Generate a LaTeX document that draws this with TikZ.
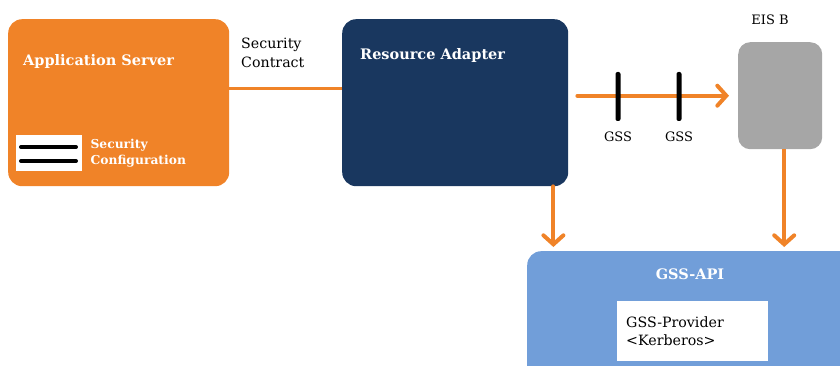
\documentclass[tikz,border=0pt]{standalone}
\usepackage{fontspec}
\setmainfont{DejaVu Serif}
\usepackage{xcolor}
\usepackage{tikz}
\usetikzlibrary{arrows.meta, positioning}

\definecolor{secorange}{RGB}{240,131,40}
\definecolor{adaptnavy}{RGB}{25,55,95}
\definecolor{eisgray}{RGB}{166,166,166}
\definecolor{apiblue}{RGB}{113,158,217}

\begin{document}
\begin{tikzpicture}[x=1pt, y=-1pt,
    panel/.style={rectangle, rounded corners=14pt, inner sep=0pt, anchor=north west},
    title/.style={inner sep=0pt, text=white, font=\fontsize{14.5}{17}\selectfont\bfseries},
    smalltitle/.style={inner sep=0pt, text=white, align=left,
                       font=\fontsize{12.3}{16}\selectfont\bfseries},
    plain/.style={inner sep=0pt, text=black, align=left,
                  font=\fontsize{14.2}{19}\selectfont},
    tag/.style={inner sep=0pt, text=black, font=\fontsize{13}{15}\selectfont},
    bar/.style={rectangle, fill=black, rounded corners=2pt, inner sep=0pt,
                minimum width=5pt, minimum height=49pt},
    link/.style={draw=secorange, line width=3pt},
    arrow/.style={draw=secorange, line width=4pt, line cap=round,
                  -{Straight Barb[length=9pt, width=20pt, line cap=round]}}
]
\clip (0,0) rectangle (840,366);

% boxes
\node[panel, fill=secorange, minimum width=221pt, minimum height=167pt] (appserver) at (8,19) {};
\node[panel, fill=adaptnavy, minimum width=226pt, minimum height=167pt] (resadapter) at (342,19) {};
\node[panel, fill=eisgray, rounded corners=12pt, minimum width=84pt, minimum height=107pt] (eisb) at (738,42) {};
\node[panel, fill=apiblue, minimum width=340pt, minimum height=140pt] (gssapi) at (527,251) {};

% texts
\node[title, anchor=west] (apptitle) at (23,62) {Application Server};
\node[title, anchor=west] (ratitle) at (360,56) {Resource Adapter};
\node[title] (apititle) at (690,274) {GSS-API};
\node[tag] (eislabel) at (770,20) {EIS B};
\node[plain, anchor=west] (contract) at (241,52.5) {Security\\Contract};

% security configuration
\node[rectangle, fill=white, inner sep=0pt, minimum width=66pt, minimum height=36pt,
      anchor=north west] (cfgicon) at (16,135) {};
\draw[line width=4pt, line cap=round] ([xshift=5,yshift=-12]cfgicon.north west) -- ++(55,0);
\draw[line width=4pt, line cap=round] ([xshift=5,yshift=-26]cfgicon.north west) -- ++(55,0);
\node[smalltitle, right=8pt of cfgicon] (cfgtext) {Security\\Configuration};

% provider
\node[rectangle, fill=white, inner ysep=0pt, inner xsep=9pt, text width=133pt,
      minimum height=60pt, align=left, anchor=north west,
      font=\fontsize{14.2}{18}\selectfont] (provider) at (617,301) {GSS-Provider\\<Kerberos>};

% connectors
\draw[link] ([yshift=14.5]appserver.east) -- ([yshift=14.5]resadapter.west);
\draw[arrow, shorten <=9pt, shorten >=9pt] (resadapter.east |- eisb.west) -- (eisb.west);
\coordinate (radown) at ([xshift=-15]resadapter.south east);
\coordinate (eisdown) at ([xshift=4]eisb.south);
\draw[arrow, shorten >=4pt] (radown) -- (radown |- gssapi.north);
\draw[arrow, line cap=butt, shorten >=4pt] (eisdown) -- (eisdown |- gssapi.north);

% gss markers
\node[bar] (gssbar1) at (618,96.5) {};
\node[bar] (gssbar2) at (679,96.5) {};
\node[tag, below=10pt of gssbar1] (gsslabel1) {GSS};
\node[tag, below=10pt of gssbar2] (gsslabel2) {GSS};

\end{tikzpicture}
\end{document}
